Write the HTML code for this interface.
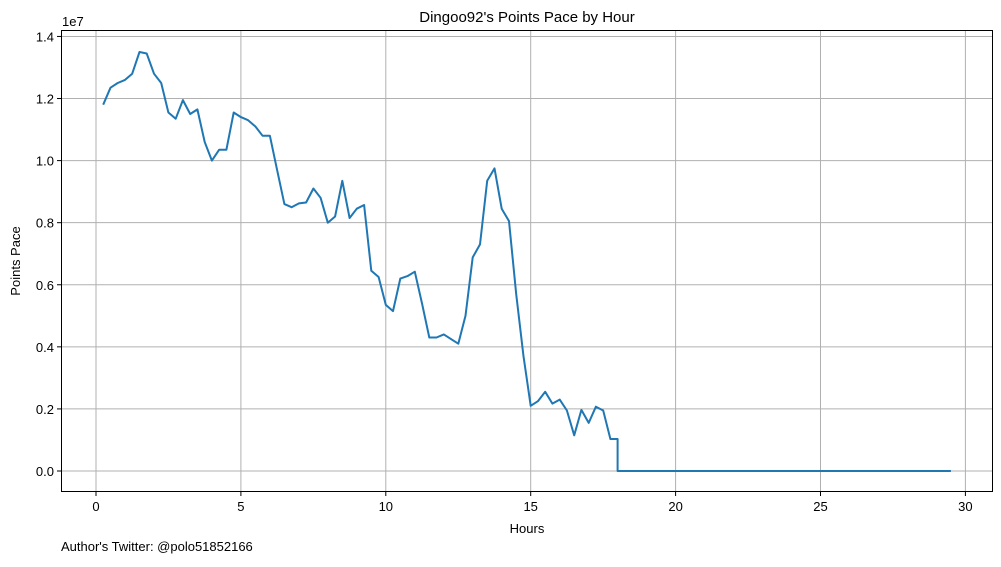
<!DOCTYPE html>
<html><head><meta charset="utf-8"><style>
body{margin:0;background:#fff;}
svg text{font-family:"Liberation Sans","DejaVu Sans",sans-serif;fill:#000;}
</style></head><body>
<svg width="1001" height="562" xmlns="http://www.w3.org/2000/svg">
<rect width="1001" height="562" fill="#fff"/>
<g id="grid"></g>
<g id="ticks"></g>
<path id="line" fill="none" stroke="#1f77b4" stroke-width="2" stroke-linejoin="round"/>
<rect x="61.5" y="30.5" width="931" height="461" fill="none" stroke="#000" stroke-width="1"/>
<text x="527" y="22" font-size="15" text-anchor="middle">Dingoo92's Points Pace by Hour</text>
<text x="62" y="26" font-size="13">1e7</text>
<text x="527" y="533" font-size="13" text-anchor="middle">Hours</text>
<text x="20" y="261" font-size="13" text-anchor="middle" transform="rotate(-90 20 261)">Points Pace</text>
<text x="61" y="551" font-size="13">Author's Twitter: @polo51852166</text>
</svg>
<script>
const hours=[0.25,0.5,0.75,1,1.25,1.5,1.75,2,2.25,2.5,2.75,3,3.25,3.5,3.75,4,4.25,4.5,4.75,5,5.25,5.5,5.75,6,6.25,6.5,6.75,7,7.25,7.5,7.75,8,8.25,8.5,8.75,9,9.25,9.5,9.75,10,10.25,10.5,10.75,11,11.25,11.5,11.75,12,12.25,12.5,12.75,13,13.25,13.5,13.75,14,14.25,14.5,14.75,15,15.25,15.5,15.75,16,16.25,16.5,16.75,17,17.25,17.5,17.75,18,18,29.5];
const pace=[11.8,12.35,12.5,12.6,12.8,13.5,13.45,12.8,12.5,11.55,11.35,11.95,11.5,11.65,10.6,10.0,10.35,10.35,11.55,11.4,11.3,11.1,10.8,10.8,9.7,8.6,8.5,8.62,8.65,9.1,8.8,8.0,8.2,9.35,8.15,8.45,8.57,6.45,6.25,5.35,5.15,6.2,6.28,6.42,5.4,4.3,4.3,4.4,4.25,4.1,5.0,6.88,7.3,9.35,9.75,8.45,8.05,5.7,3.7,2.1,2.25,2.55,2.17,2.3,1.95,1.15,1.97,1.55,2.07,1.95,1.03,1.03,0,0].map(v=>v*1e6);
const xTicks=[0,5,10,15,20,25,30];
const yTicks=[0,0.2,0.4,0.6,0.8,1.0,1.2,1.4];
const NS="http://www.w3.org/2000/svg";
const xs=h=>96+h*28.98;
const ys=v=>471-v/1e7*310.4;
const grid=document.getElementById('grid'),ticks=document.getElementById('ticks');
function mk(tag,attrs,parent){const e=document.createElementNS(NS,tag);for(const k in attrs)e.setAttribute(k,attrs[k]);parent.appendChild(e);return e;}
xTicks.forEach(t=>{const x=xs(t);
 const g=mk('line',{x1:x,x2:x,y1:30.5,y2:491.5,stroke:'#b0b0b0','stroke-width':1},grid);
 
 
 const tk=mk('line',{x1:x,x2:x,y1:491.5,y2:496,stroke:'#000'},ticks);
 
 
 const tx=mk('text',{x:x,y:511,'font-size':13,'text-anchor':'middle'},ticks);tx.textContent=t;
 
 
});
yTicks.forEach(t=>{const y=ys(t*1e7);
 const g=mk('line',{x1:61.5,x2:992.5,y1:y,y2:y,stroke:'#b0b0b0','stroke-width':1},grid);
 
 
 const tk=mk('line',{x1:57,x2:61.5,y1:y,y2:y,stroke:'#000'},ticks);
 
 
 const tx=mk('text',{x:54,y:y+5,'font-size':13,'text-anchor':'end'},ticks);tx.textContent=t.toFixed(1);
 
 
});
document.getElementById('line').setAttribute('d',hours.map((h,i)=>(i?'L':'M')+xs(h).toFixed(1)+' '+ys(pace[i]).toFixed(1)).join(' '));
</script>
</body></html>
